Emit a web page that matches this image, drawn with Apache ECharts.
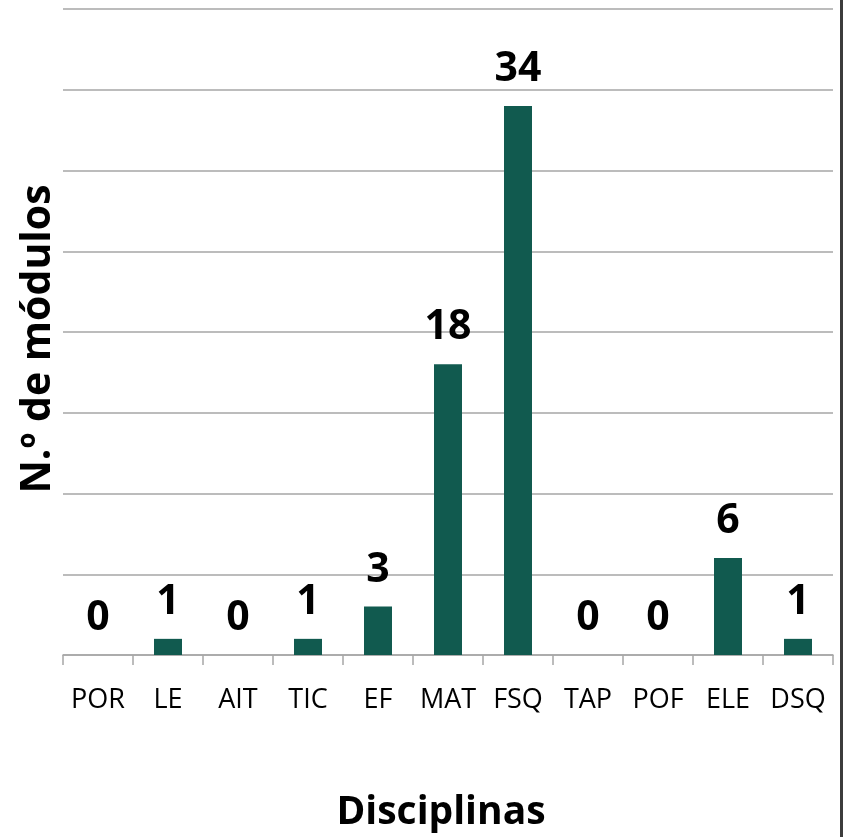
<!DOCTYPE html>
<html>
<head>
<meta charset="utf-8">
<script src="https://cdn.jsdelivr.net/npm/echarts@6/dist/echarts.min.js"></script>
<style>
html, body { margin: 0; padding: 0; background: #fff; }
.wrap { width: 840px; height: 837px; border-right: 3px solid #3c3c3c; }
#chart { width: 840px; height: 837px; }
</style>
</head>
<body>
<div class="wrap"><div id="chart"></div></div>
<script>
// disciplinas e n.º de módulos
const disciplinas = ['POR', 'LE', 'AIT', 'TIC', 'EF', 'MAT', 'FSQ', 'TAP', 'POF', 'ELE', 'DSQ']
const modulos = [0, 1, 0, 1, 3, 18, 34, 0, 0, 6, 1]

let chart = echarts.init(document.getElementById('chart'))
let font = '"Open Sans", sans-serif'
let option = {
  animation: false,
  grid: {
    left: 63,
    right: 7,
    top: 9,
    bottom: 181
  },
  xAxis: {
    type: 'category',
    data: disciplinas,
    name: 'Disciplinas',
    nameLocation: 'middle',
    nameGap: 138,
    nameTextStyle: {
      fontFamily: font,
      fontWeight: 'bold',
      fontSize: 39,
      color: '#000',
      padding: [0, 14, 0, 0]
    },
    axisLine: { lineStyle: { color: '#a6a6a6', width: 1.5 } },
    axisTick: { show: true, interval: 0, length: 10, lineStyle: { color: '#a6a6a6', width: 1.5 } },
    axisLabel: {
      interval: 0,
      margin: 32,
      fontFamily: font,
      fontSize: 27,
      color: '#000'
    }
  },
  yAxis: {
    type: 'value',
    min: 0,
    max: 40,
    interval: 5,
    name: 'N.º de módulos',
    nameLocation: 'middle',
    nameGap: 4,
    nameTextStyle: {
      fontFamily: font,
      fontWeight: 'bold',
      fontSize: 41,
      color: '#000',
      padding: [0, 14, 0, 0]
    },
    axisLine: { show: false },
    axisTick: { show: false },
    axisLabel: { show: false },
    splitLine: { lineStyle: { color: '#a6a6a6', width: 1.5 } }
  },
  series: [
    {
      type: 'bar',
      data: modulos,
      barWidth: '40%',
      itemStyle: { color: '#115a4f' },
      label: {
        show: true,
        position: 'top',
        distance: 16,
        fontFamily: font,
        fontWeight: 'bold',
        fontSize: 41,
        color: '#000'
      }
    }
  ]
}
chart.setOption(option)
</script>
</body>
</html>
